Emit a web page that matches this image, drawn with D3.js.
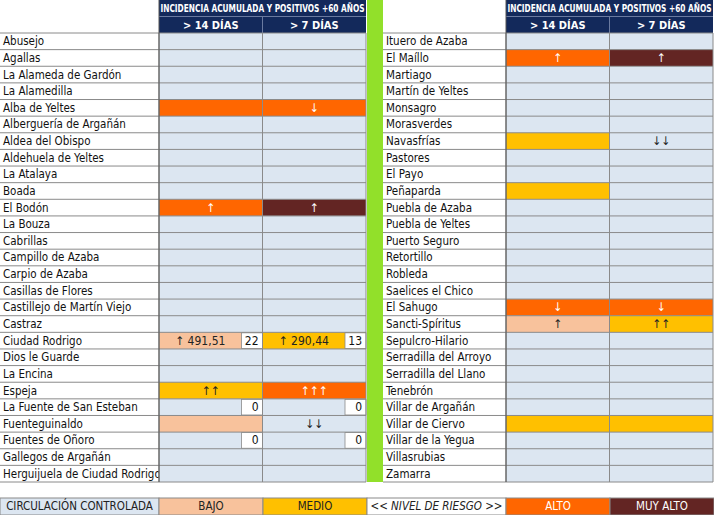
<!DOCTYPE html>
<html><head><meta charset="utf-8">
<script src="https://cdn.jsdelivr.net/npm/d3@7"></script>
<style>body{margin:0;background:#fff}svg{display:block}text{font-family:"DejaVu Sans Condensed","DejaVu Sans";font-stretch:condensed}</style>
</head><body>
<svg id="chart" width="714" height="515"></svg>
<script>
const leftNames = ["Abusejo","Agallas","La Alameda de Gardón","La Alamedilla","Alba de Yeltes","Alberguería de Argañán","Aldea del Obispo","Aldehuela de Yeltes","La Atalaya","Boada","El Bodón","La Bouza","Cabrillas","Campillo de Azaba","Carpio de Azaba","Casillas de Flores","Castillejo de Martín Viejo","Castraz","Ciudad Rodrigo","Dios le Guarde","La Encina","Espeja","La Fuente de San Esteban","Fuenteguinaldo","Fuentes de Oñoro","Gallegos de Argañán","Herguijuela de Ciudad Rodrigo"];
const rightNames = ["Ituero de Azaba","El Maíllo","Martiago","Martín de Yeltes","Monsagro","Morasverdes","Navasfrías","Pastores","El Payo","Peñaparda","Puebla de Azaba","Puebla de Yeltes","Puerto Seguro","Retortillo","Robleda","Saelices el Chico","El Sahugo","Sancti-Spíritus","Sepulcro-Hilario","Serradilla del Arroyo","Serradilla del Llano","Tenebrón","Villar de Argañán","Villar de Ciervo","Villar de la Yegua","Villasrubias","Zamarra"];
// risk level per row: [14 días, 7 días]; "" = circulación controlada
const leftLevels = {4:["alto","alto"],10:["alto","muyalto"],18:["bajo","medio"],21:["medio","alto"],23:["bajo",""]};
const rightLevels = {1:["alto","muyalto"],6:["medio",""],9:["medio",""],16:["alto","alto"],17:["bajo","medio"],23:["medio","medio"]};
// trend arrows / values
const leftText = {4:["","↓"],10:["↑","↑"],18:["↑ 491,51","↑ 290,44"],21:["↑↑","↑↑↑"],23:["","↓↓"]};
const rightText = {1:["↑","↑"],6:["","↓↓"],16:["↓","↓"],17:["↑","↑↑"]};
// positives count boxes
const leftCounts = {18:[22,13],22:[0,0],24:[0,0]};
const rightCounts = {};
const headerTitle = "INCIDENCIA ACUMULADA Y POSITIVOS +60 AÑOS";
const colLabels = ["> 14 DÍAS","> 7 DÍAS"];
const legendItems = [["CIRCULACIÓN CONTROLADA",""],["BAJO","bajo"],["MEDIO","medio"],["<< NIVEL DE RIESGO >>","blank"],["ALTO","alto"],["MUY ALTO","muyalto"]];

const fill = {"":"#dce6f1",bajo:"#f8c29c",medio:"#ffc000",alto:"#ff6600",muyalto:"#632523",blank:"#fff"};
const ink = {"":"#222",bajo:"#222",medio:"#222",alto:"#fff",muyalto:"#fff",blank:"#222"};
const navy = "#13295b", grid = "#8a8a8a";

const svg = d3.select("#chart");
const y = d3.scaleBand().domain(d3.range(27)).range([33, 482]);

function half(x0, nameW, names, levels, texts, counts) {
  const colW = 103.5;
  const g = svg.append("g");
  // header
  g.append("rect").attr("x", x0+nameW).attr("y", 0).attr("width", colW*2).attr("height", 33).attr("fill", navy);
  g.append("text").attr("x", x0+nameW+colW).attr("y", 12).attr("text-anchor","middle")
    .attr("fill","#fff").attr("font-size", 10.5).attr("font-weight","bold")
    .attr("textLength", colW*2-3).attr("lengthAdjust","spacingAndGlyphs").text(headerTitle);
  colLabels.forEach((l,i) => g.append("text").attr("x", x0+nameW+colW*i+colW/2).attr("y", 29)
    .attr("text-anchor","middle").attr("fill","#fff").attr("font-size",11).attr("font-weight","bold").text(l));
  g.append("line").attr("x1",x0+nameW+colW).attr("x2",x0+nameW+colW).attr("y1",17).attr("y2",33).attr("stroke","#6a7aa0");
  g.append("line").attr("x1",x0+nameW).attr("x2",x0+nameW+colW*2).attr("y1",16.5).attr("y2",16.5).attr("stroke","#6a7aa0");

  const rows = g.selectAll("g.row").data(names).join("g").attr("transform",(d,i)=>`translate(0,${y(i)})`);
  const h = y.bandwidth();
  rows.append("text").attr("x", x0+3).attr("y", h/2+4).attr("font-size", 11.5).attr("fill","#111").text(d=>d);
  [0,1].forEach(c => {
    const cx = x0+nameW+colW*c;
    rows.append("rect").attr("x", cx).attr("y",0).attr("width",colW).attr("height",h)
      .attr("fill",(d,i)=>fill[(levels[i]||["",""])[c]]);
    rows.append("text").attr("x", (d,i)=>cx+(counts[i]? (colW-21)/2 : colW/2)).attr("y",h/2+4)
      .attr("text-anchor","middle").attr("font-size",12)
      .attr("fill",(d,i)=>ink[(levels[i]||["",""])[c]])
      .text((d,i)=>(texts[i]||["",""])[c]);
    const cr = rows.filter((d,i)=>counts[i]!==undefined);
    cr.append("rect").attr("x",cx+colW-21).attr("y",0.5).attr("width",21).attr("height",h-1)
      .attr("fill","#fff").attr("stroke",grid).attr("stroke-width",0.8);
    cr.append("text").attr("x",cx+colW-4).attr("y",h/2+4).attr("text-anchor","end").attr("font-size",12)
      .attr("fill","#111").text((d)=>counts[names.indexOf(d)][c]);
  });
  // grid
  g.selectAll("line.h").data(d3.range(28)).join("line")
    .attr("x1",x0).attr("x2",x0+nameW+colW*2).attr("y1",i=>y(0)+i*h).attr("y2",i=>y(0)+i*h)
    .attr("stroke",grid).attr("stroke-width",1);
  [nameW, nameW+colW, nameW+colW*2].forEach(dx => g.append("line").attr("x1",x0+dx).attr("x2",x0+dx)
    .attr("y1",33).attr("y2",482).attr("stroke",grid));
  g.append("line").attr("x1",x0+nameW).attr("x2",x0+nameW).attr("y1",0).attr("y2",482).attr("stroke","#555");
}

half(0, 159, leftNames, leftLevels, leftText, leftCounts);
half(383, 123, rightNames, rightLevels, rightText, rightCounts);
svg.append("rect").attr("x",367).attr("y",0).attr("width",16).attr("height",482).attr("fill","#92e02a");

// legend
const lx = [0,159,263,367,506,610,714];
legendItems.forEach((it,i) => {
  svg.append("rect").attr("x",lx[i]).attr("y",498).attr("width",lx[i+1]-lx[i]).attr("height",17)
    .attr("fill",fill[it[1]]).attr("stroke",grid);
  svg.append("text").attr("x",(lx[i]+lx[i+1])/2).attr("y",510).attr("text-anchor","middle")
    .attr("font-size",11.5).attr("fill",ink[it[1]]).attr("font-style",it[1]==="blank"?"italic":null).text(it[0]);
});
</script>
</body></html>
